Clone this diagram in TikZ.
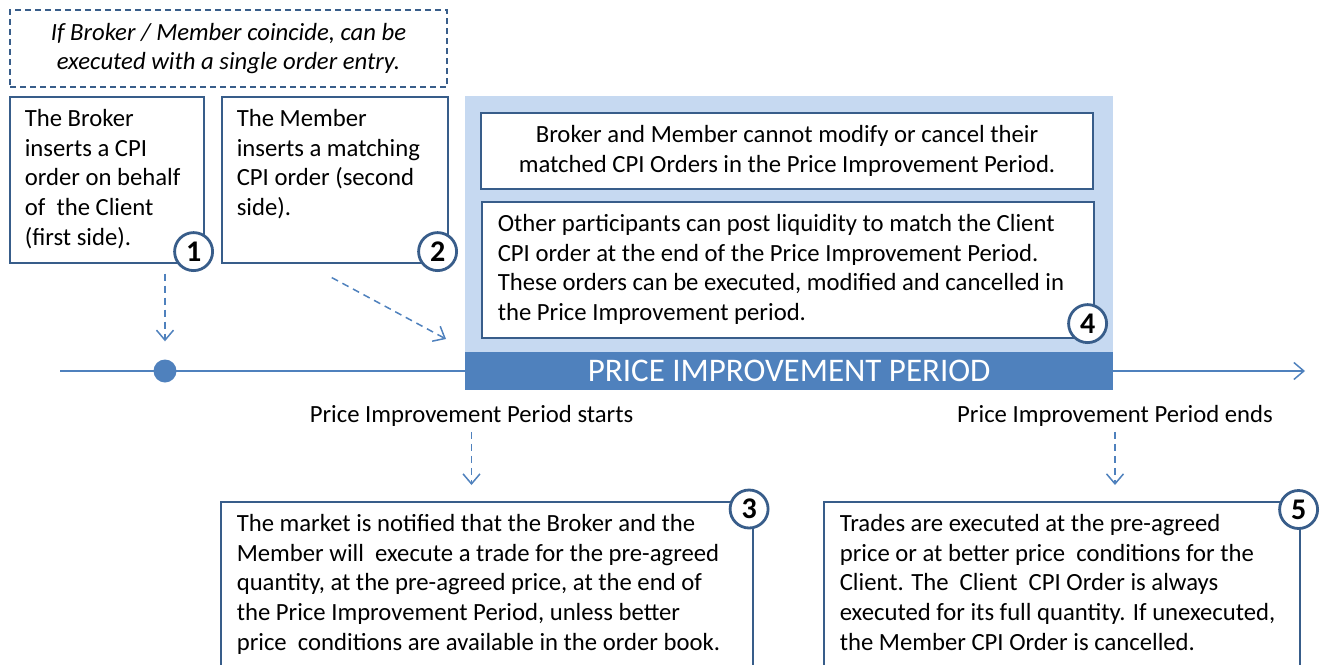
\documentclass[tikz,border=0pt]{standalone}
\usepackage{fontspec}
\setmainfont{Carlito}
\usetikzlibrary{arrows.meta}

\definecolor{boxblue}{RGB}{56,93,138}
\definecolor{lineblue}{RGB}{79,129,189}
\definecolor{paleblue}{RGB}{198,217,241}

% top-left aligned text of a fixed size
\newcommand{\topleft}[3]{\parbox[c][#2][t]{#1}{\raggedright\strut#3}}
\newcommand{\bodysize}{\fontsize{24.7}{29.7}\selectfont}

\tikzset{
	bodyfont/.style={font=\bodysize},
	textbox/.style={bodyfont, draw=boxblue, line width=1.6pt, fill=white, inner xsep=15pt, inner ysep=9pt, anchor=north west},
	notebox/.style={draw=boxblue, line width=1.2pt, dash pattern=on 6pt off 4pt, align=center, font=\bodysize\itshape},
	numbadge/.style={circle, draw=boxblue, line width=2.8pt, fill=white, minimum size=38pt, inner sep=0pt, font=\fontsize{30}{30}\selectfont\bfseries},
	flow/.style={draw=lineblue, line width=1.5pt, dash pattern=on 7pt off 5pt, -{Straight Barb[length=10pt,width=17pt]}},
	timeline/.style={draw=lineblue, line width=1.5pt, -{Straight Barb[length=10pt,width=17pt]}},
	caption/.style={bodyfont, inner sep=0pt},
}

\begin{document}
\begin{tikzpicture}[x=1pt,y=-1pt]
	\useasboundingbox (0,0) rectangle (1322,664);
	\clip (0,0) rectangle (1322,664);

	% time axis
	\coordinate (tl start) at (60,371);
	\coordinate (tl end) at (1305,371);
	\draw[timeline] (tl start) -- (tl end);
	\node[circle, fill=lineblue, minimum size=23pt, inner sep=0pt] (dot) at (165,371) {};

	% entry of the two orders
	\node[notebox, minimum width=437pt, minimum height=77pt] (note) at (228.5,48.5)
		{If Broker / Member coincide, can be\\executed with a single order entry.};
	\node[textbox] (broker) at (9,96)
		{\topleft{164pt}{148pt}{The Broker\\inserts a CPI\\order on behalf\\of~ the Client\\(first side).}};
	\node[textbox] (member) at (221,96)
		{\topleft{196pt}{148pt}{The Member\\inserts a matching\\CPI order (second\\side).}};
	\node[numbadge] (n1) at ([shift={(-11pt,12pt)}]broker.south east) {1};
	\node[numbadge] (n2) at ([shift={(-11pt,12pt)}]member.south east) {2};

	% price improvement period
	\node[fill=paleblue, minimum width=648pt, minimum height=256pt, anchor=north west, inner sep=0pt] (period) at (465,96) {};
	\node[fill=lineblue, text=white, minimum width=648pt, minimum height=38pt, anchor=north west, inner sep=0pt,
		font=\fontsize{33}{33}\selectfont] (bar) at (465,352) {PRICE IMPROVEMENT PERIOD};
	\node[bodyfont, draw=boxblue, line width=1.6pt, fill=white, minimum width=612pt, minimum height=76pt, align=center] (frozen) at (787,151)
		{Broker and Member cannot modify or cancel their\\matched CPI Orders in the Price Improvement Period.};
	\node[textbox, inner xsep=16pt] (others) at (481,201)
		{\topleft{580pt}{118pt}{Other participants can post liquidity to match the Client\\CPI order at the end of the Price Improvement Period.\\These orders can be executed, modified and cancelled in\\the Price Improvement period.}};
	\node[numbadge] (n4) at ([shift={(-7pt,15pt)}]others.south east) {4};

	\draw[flow] ([yshift=-10pt]dot |- broker.south) -- ([yshift=18pt]dot.north);
	\draw[flow] ([shift={(-3pt,-14pt)}]member.south) -- ([shift={(-19pt,13pt)}]bar.north west);

	% start and end
	\node[caption] (starts) at (471.5,416) {Price Improvement Period starts};
	\node[caption] (ends) at (1115,416) {Price Improvement Period ends};
	\node[textbox, inner xsep=16pt] (market) at (220,501)
		{\topleft{500pt}{181pt}{The market is notified that the Broker and the\\Member will~ execute a trade for the pre-agreed\\quantity, at the pre-agreed price, at the end of\\the Price Improvement Period, unless better\\price~ conditions are available in the order book.}};
	\node[textbox, inner xsep=16pt] (trades) at (823,501)
		{\topleft{444pt}{181pt}{Trades are executed at the pre-agreed\\price or at better price~ conditions for the\\Client. The~ Client~ CPI Order is always\\executed for its full quantity. If unexecuted,\\the Member CPI Order is cancelled.}};
	\node[numbadge] (n3) at ([shift={(-4.5pt,-8pt)}]market.north east) {3};
	\node[numbadge] (n5) at ([shift={(-2pt,-8.5pt)}]trades.north east) {5};

	\draw[flow] ([yshift=-5pt]starts.south) -- ([yshift=16pt]starts.south |- market.north);
	\draw[flow] ([yshift=-5pt]ends.south) -- ([yshift=16pt]ends.south |- trades.north);
\end{tikzpicture}
\end{document}
